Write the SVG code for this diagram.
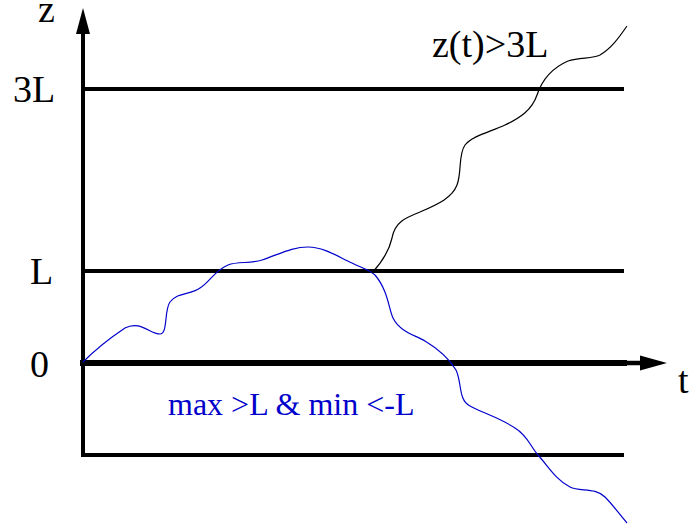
<svg xmlns="http://www.w3.org/2000/svg" width="689" height="531" viewBox="0 0 689 531">
<style>
.axis{stroke:#000;fill:none}
.curve{fill:none;stroke-width:1.2}
</style>
<rect width="689" height="531" fill="#fff"/>
<g id="axes">
<line class="axis" x1="83" y1="32" x2="83" y2="457" stroke-width="4"/>
<polygon points="83,8 76,34 90,34" fill="#000"/>
<line class="axis" x1="80" y1="363" x2="627" y2="363" stroke-width="6"/>
<line class="axis" x1="625" y1="363" x2="642" y2="363" stroke-width="4.5"/>
<polygon points="667,363 640,355.5 640,370.5" fill="#000"/>
</g>
<g id="levels">
<line class="axis" x1="83" y1="89" x2="624" y2="89" stroke-width="4"/>
<line class="axis" x1="83" y1="271" x2="624" y2="271" stroke-width="4"/>
<line class="axis" x1="81" y1="455" x2="624" y2="455" stroke-width="4"/>
</g>
<g id="labels" font-family="Liberation Serif, Times New Roman, serif" font-size="38" fill="#000">
<text x="38" y="22">z</text>
<text x="13" y="102">3L</text>
<text x="30" y="284">L</text>
<text x="30" y="377">0</text>
<text x="678" y="393">t</text>
<text x="432" y="57">z(t)&gt;3L</text>
<text x="168" y="415" font-size="32" fill="#0000cc">max &gt;L &amp; min &lt;-L</text>
</g>
<g id="paths">
<path class="curve" stroke="#0000cc" d="M83,362 C95,350 110,338 125,328 C140,320 150,334 160,334 C168,334 164,310 170,302 C178,292 190,295 200,288 C210,282 215,270 228,265 C238,261 250,264 262,260 C280,254 292,247 308,247 C325,247 340,258 352,263 C362,268 370,270 375,275 C388,290 389,310 393,318 C400,332 415,335 425,341 C440,350 450,360 456,370 C462,382 458,400 470,406 C485,414 500,418 515,428 C528,436 530,446 538,455 C548,466 556,480 570,487 C580,492 595,487 605,497 C613,505 620,515 627,523"/>
<path class="curve" stroke="#000" d="M372,273 C382,262 389,252 392,238 C395,222 405,218 420,212 C438,204 452,198 457,185 C462,172 458,155 465,145 C472,136 490,132 505,125 C520,118 532,110 537,95 C542,80 552,68 568,61 C580,57 592,59 600,55 C612,48 620,36 627,26"/>
</g>
</svg>
